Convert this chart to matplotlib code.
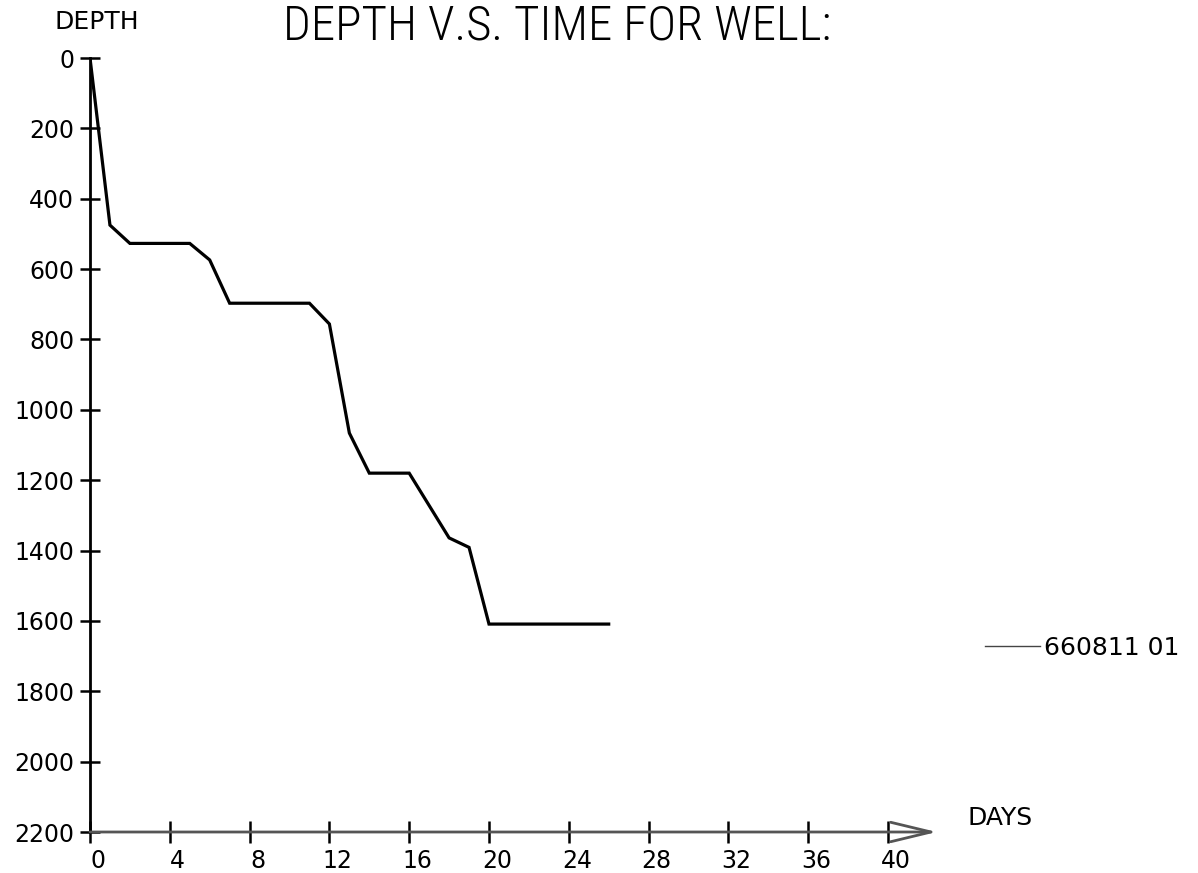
import matplotlib
matplotlib.use("Agg")
import matplotlib.pyplot as plt
from matplotlib import font_manager
from matplotlib.transforms import ScaledTranslation

# drilling record
days = [0, 1, 2, 5, 6, 7, 11, 12, 13, 14, 16, 18, 19, 20, 26]
depth = [0, 475, 527, 527, 574, 697, 697, 756, 1066, 1180, 1180, 1364, 1391, 1609, 1609]
well_label = "660811 01"

x_ticks = list(range(0, 41, 4))
y_ticks = list(range(0, 2201, 200))

W, H = 1198, 873
fig = plt.figure(figsize=(W / 100, H / 100), dpi=100)

# pick a narrow face for the plotter-style title if one is around
names = {f.name for f in font_manager.fontManager.ttflist}
title_font = "DejaVu Sans"
for cand in ["Liberation Sans Narrow", "Roboto Condensed", "Open Sans Condensed"]:
    if cand in names:
        title_font = cand
        break

# 0 day at px 90, ~19.95 px per day; depth 0 at px 58, 2200 at px 832
xmax = 46
ax = fig.add_axes([90 / W, 41 / H, xmax * 19.95 / W, 774 / H])
ax.set_xlim(0, xmax)
ax.set_ylim(2200, 0)

ax.plot(days, depth, color="black", lw=2.3, solid_joinstyle="miter", label=well_label)

for s in ["top", "right"]:
    ax.spines[s].set_visible(False)
ax.spines["left"].set_linewidth(2.0)
ax.spines["left"].set_color("black")
ax.spines["bottom"].set_visible(False)

# x axis drawn as a long arrow past the last tick
ax.annotate("", xy=(42.45, 2200), xytext=(0, 2200),
            arrowprops=dict(arrowstyle="->,head_length=2.9,head_width=0.7",
                            color="#555555", lw=2.0, shrinkA=0, shrinkB=0),
            annotation_clip=False)

ax.set_xticks(x_ticks)
ax.set_yticks(y_ticks)
ax.tick_params(axis="both", direction="inout", labelsize=17, colors="black")
ax.tick_params(axis="x", length=16, width=1.8, pad=4)
ax.tick_params(axis="y", length=15, width=1.8, pad=4)
offset = ScaledTranslation(8 / 100, 0, fig.dpi_scale_trans)
for lab in ax.get_xticklabels():
    lab.set_transform(lab.get_transform() + offset)

fig.text(55 / W, 1 - 22 / H, "DEPTH", fontsize=18, va="center", ha="left")
fig.text(967 / W, 1 - 818 / H, "DAYS", fontsize=18, va="center", ha="left")

title = fig.text(283 / W, 1 - 39 / H, "DEPTH V.S. TIME FOR WELL:",
                 family=title_font, fontsize=36, fontweight="light",
                 va="baseline", ha="left")

leg = ax.legend(loc="center left", bbox_to_anchor=(985 / W, 1 - 648 / H),
                bbox_transform=fig.transFigure, frameon=False, fontsize=18,
                handlelength=2.2, handletextpad=0.15, borderpad=0, borderaxespad=0)
for ln in leg.get_lines():
    ln.set_linewidth(1.0)
    ln.set_color("#444444")

# stretch the title so it spans the same width as the scan
fig.canvas.draw()
bb = title.get_window_extent()
title.set_fontsize(36 * 548 / bb.width)

fig.savefig("out.png", dpi=100)
